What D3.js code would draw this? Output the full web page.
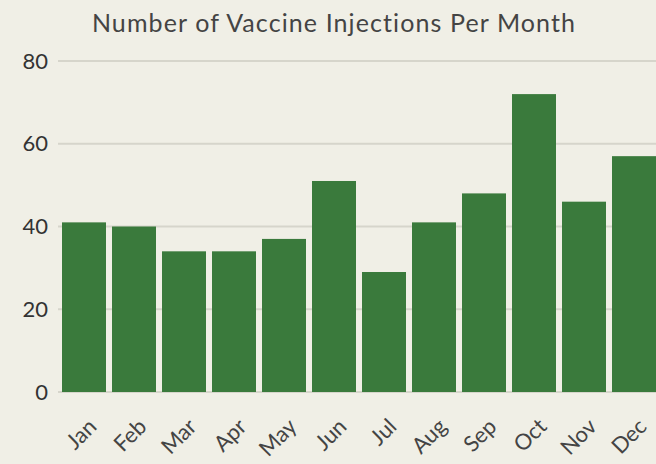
<!DOCTYPE html>
<html><head><meta charset="utf-8">
<script src="https://cdn.jsdelivr.net/npm/d3@7"></script>
<style>
html,body{margin:0;padding:0;background:#f0efe6;}
svg{display:block;}
</style></head>
<body>
<svg id="chart" width="656" height="464"></svg>
<script>
const title = "Number of Vaccine Injections Per Month";
const months = ["Jan","Feb","Mar","Apr","May","Jun","Jul","Aug","Sep","Oct","Nov","Dec"];
const injections = [41,40,34,34,37,51,29,41,48,72,46,57];
const yTicks = [0,20,40,60,80];

const W = 656, H = 464;
const svg = d3.select("#chart");
svg.append("rect").attr("width",W).attr("height",H).attr("fill","#f0efe6");

const x = d3.scaleBand().domain(months).range([62,656]).paddingInner(0.12).paddingOuter(0);
const y = d3.scaleLinear().domain([0,80]).range([392,61]);

const font = "Lato, 'Open Sans', sans-serif";

// grid
svg.append("g").selectAll("line").data(yTicks).join("line")
  .attr("x1",58).attr("x2",W)
  .attr("y1",d=>y(d)).attr("y2",d=>y(d))
  .attr("stroke","#d6d5cb").attr("stroke-width",2);

// y labels
svg.append("g").selectAll("text").data(yTicks).join("text")
  .attr("x",48).attr("y",d=>y(d)).attr("dy","0.35em")
  .attr("text-anchor","end")
  .attr("font-family",font).attr("font-size",22).attr("fill","#333")
  .text(d=>d);

// bars
svg.append("g").selectAll("rect").data(injections).join("rect")
  .attr("x",(d,i)=>x(months[i])).attr("width",x.bandwidth())
  .attr("y",d=>y(d)).attr("height",d=>y(0)-y(d))
  .attr("fill","#3a7a3c");

// x labels
svg.append("g").selectAll("text").data(months).join("text")
  .attr("transform",d=>`translate(${x(d)+x.bandwidth()/2+14},${428}) rotate(-45)`)
  .attr("text-anchor","end")
  .attr("font-family",font).attr("font-size",22).attr("fill","#444")
  .text(d=>d);

// title
svg.append("text").attr("x",334).attr("y",32).attr("text-anchor","middle")
  .attr("font-family",font).attr("font-size",25).attr("letter-spacing",1.1).attr("fill","#444")
  .text(title);
</script>
</body></html>
